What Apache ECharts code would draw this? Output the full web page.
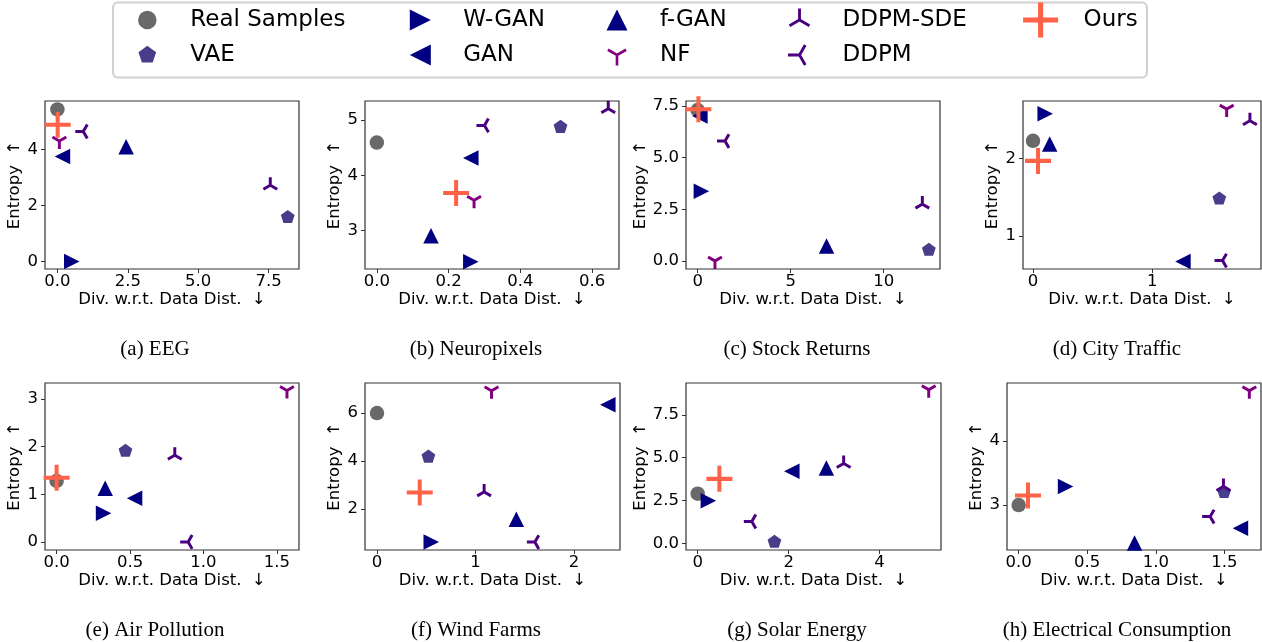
<!DOCTYPE html>
<html>
<head>
<meta charset="utf-8">
<script src="https://cdn.jsdelivr.net/npm/echarts@6/dist/echarts.min.js"></script>
<style>
  html, body { margin: 0; padding: 0; background: #fff; }
  #chart { width: 1262px; height: 642px; }
</style>
</head>
<body>
<div id="chart"></div>
<script>
const methods = ['Real Samples', 'VAE', 'W-GAN', 'GAN', 'f-GAN', 'NF', 'DDPM-SDE', 'DDPM', 'Ours'];
const captions = ['(a) EEG', '(b) Neuropixels', '(c) Stock Returns', '(d) City Traffic',
  '(e) Air Pollution', '(f) Wind Farms', '(g) Solar Energy', '(h) Electrical Consumption'];

// [divergence, entropy] for each method, same order as `methods`
const eeg = [[0, 5.43], [8.18, 1.58], [0.51, 0], [0.18, 3.75], [2.44, 4.1], [0.07, 4.3], [7.56, 2.72], [0.92, 4.64], [0.01, 4.88]];
const neuropixels = [[0, 4.59], [0.512, 4.87], [0.262, 2.44], [0.262, 4.31], [0.151, 2.91], [0.271, 3.55], [0.645, 5.2], [0.30, 4.9], [0.221, 3.68]];
const stockReturns = [[0, 7.3], [12.43, 0.53], [0.2, 3.37], [0.12, 7.02], [6.93, 0.72], [0.93, 0], [12.08, 2.75], [1.47, 5.8], [0.04, 7.34]];
const cityTraffic = [[0, 2.23], [1.563, 1.48], [0.102, 2.58], [1.258, 0.667], [0.14, 2.19], [1.625, 2.64], [1.82, 2.49], [1.59, 0.68], [0.042, 1.97]];
const airPollution = [[0, 1.28], [0.469, 1.91], [0.32, 0.6], [0.531, 0.92], [0.331, 1.13], [1.569, 3.18], [0.805, 1.82], [0.896, 0], [0, 1.35]];
const windFarms = [[0, 6.0], [0.522, 4.18], [0.551, 0.63], [2.344, 6.35], [1.415, 1.58], [1.163, 6.93], [1.088, 2.72], [1.603, 0.63], [0.434, 2.69]];
const solarEnergy = [[0, 2.91], [1.688, 0.1], [0.235, 2.5], [2.07, 4.22], [2.83, 4.4], [5.08, 8.96], [3.21, 4.67], [1.19, 1.29], [0.477, 3.77]];
const electricity = [[0, 3.0], [1.498, 3.2], [0.342, 3.29], [1.617, 2.64], [0.845, 2.41], [1.682, 4.78], [1.493, 3.29], [1.396, 2.82], [0.068, 3.15]];

const xLimits = [[-0.44, 8.58], [-0.033, 0.675], [-0.627, 13.03], [-0.084, 1.913],
  [-0.079, 1.651], [-0.122, 2.468], [-0.257, 5.35], [-0.085, 1.767]];
const yLimits = [[-0.27, 5.73], [2.31, 5.34], [-0.39, 7.74], [0.571, 2.745],
  [-0.169, 3.337], [0.30, 7.254], [-0.37, 9.35], [2.30, 4.90]];
const xTicks = [['0.0', '2.5', '5.0', '7.5'], ['0.0', '0.2', '0.4', '0.6'], ['0', '5', '10'], ['0', '1'],
  ['0.0', '0.5', '1.0', '1.5'], ['0', '1', '2'], ['0', '2', '4'], ['0.0', '0.5', '1.0', '1.5']];
const yTicks = [['0', '2', '4'], ['3', '4', '5'], ['0.0', '2.5', '5.0', '7.5'], ['1', '2'],
  ['0', '1', '2', '3'], ['2', '4', '6'], ['0.0', '2.5', '5.0', '7.5'], ['3', '4']];

const datasets = [eeg, neuropixels, stockReturns, cityTraffic, airPollution, windFarms, solarEnergy, electricity];

// layout
const gridRects = [[45, 101, 254, 168], [365, 101, 254, 168], [686, 101, 254, 168], [1023, 101, 238, 168],
  [45, 383, 254, 167], [365, 383, 255, 167], [686, 383, 255, 167], [1007, 383, 254, 167]];
const yNameGaps = [19, 19, 34, 19, 19, 19, 35, 19];
const captionX = [155, 476, 797, 1117];
const captionY = [349, 630];

const colors = ['#696969', '#483D8B', '#000080', '#000080', '#000080', '#800080', '#4B0082', '#4B0082', '#FF6347'];
const font = 'DejaVu Sans';

// marker shapes (matplotlib-like), all centred in a 20x20 box
const PAD = 'M-10,-10M10,10';
function poly(pts) {
  return 'M' + pts.map(p => p[0].toFixed(2) + ',' + p[1].toFixed(2)).join('L') + 'Z';
}
function triPath(angles, h) {
  return PAD + angles.map(a => {
    const r = a * Math.PI / 180, dx = Math.cos(r), dy = Math.sin(r), nx = -dy, ny = dx, b = -h * 0.6;
    return poly([[b * dx + nx * h, b * dy + ny * h], [10 * dx + nx * h, 10 * dy + ny * h],
      [10 * dx - nx * h, 10 * dy - ny * h], [b * dx - nx * h, b * dy - ny * h]]);
  }).join('');
}
function plusPath(h) {
  return PAD + poly([[-10, -h], [10, -h], [10, h], [-10, h]]) + poly([[-h, -10], [h, -10], [h, 10], [-h, 10]]);
}
const pentagon = PAD + poly([0, 1, 2, 3, 4].map(k => {
  const a = (-90 + 72 * k) * Math.PI / 180;
  return [10 * Math.cos(a), 10 * Math.sin(a)];
}));
const triUp = PAD + 'M0,-10L10,10L-10,10Z';
const triRight = PAD + 'M10,0L-10,10L-10,-10Z';
const triLeft = PAD + 'M-10,0L10,-10L10,10Z';
const armsNF = [90, 210, 330], armsSDE = [270, 150, 30], armsDDPM = [180, 300, 60];

function symbols(triH, plusH) {
  return ['circle', 'path://' + pentagon, 'path://' + triRight, 'path://' + triLeft, 'path://' + triUp,
    'path://' + triPath(armsNF, triH), 'path://' + triPath(armsSDE, triH), 'path://' + triPath(armsDDPM, triH),
    'path://' + plusPath(plusH)];
}
const plotSymbols = symbols(1.85, 1.55);
const legendSymbols = symbols(1.25, 1.45);
const plotSizes = [14.5, 14.5, 15.5, 15.5, 15.5, 16, 16, 16, 26];

const legendCols = [
  { names: ['Real Samples', 'VAE'], x: 147.3, size: 18.5 },
  { names: ['W-GAN', 'GAN'], x: 420.3, size: 21 },
  { names: ['f-GAN', 'NF'], x: 617, size: 21 },
  { names: ['DDPM-SDE', 'DDPM'], x: 799.5, size: 23 },
  { names: ['Ours'], x: 1040.6, size: 35 }
];

function makeAxis(ticks, limits, isX, k) {
  const vals = ticks.map(Number);
  return {
    type: 'value',
    gridIndex: k,
    position: isX ? 'bottom' : 'left',
    min: limits[0],
    max: limits[1],
    name: isX ? 'Div. w.r.t. Data Dist.  \u2193' : 'Entropy  \u2191',
    nameLocation: 'middle',
    nameGap: isX ? 20 : yNameGaps[k],
    nameTextStyle: { fontFamily: font, fontSize: 16.5, color: '#000' },
    axisLine: { show: false, onZero: false },
    axisTick: { show: true, inside: false, length: 4, customValues: vals, lineStyle: { color: '#333', width: 1 } },
    axisLabel: {
      customValues: vals,
      margin: isX ? 4 : 7,
      fontFamily: font, fontSize: 16.5, color: '#000',
      formatter: v => ticks[vals.indexOf(v)] !== undefined ? ticks[vals.indexOf(v)] : String(v)
    },
    splitLine: { show: false }
  };
}

const grid = [], xAxis = [], yAxis = [], series = [];
datasets.forEach((pts, k) => {
  const [l, t, w, h] = gridRects[k];
  grid.push({ left: l, top: t, width: w, height: h, show: true, borderColor: '#333', borderWidth: 1.2,
    backgroundColor: '#fff', outerBoundsMode: 'none', containLabel: false });
  xAxis.push(makeAxis(xTicks[k], xLimits[k], true, k));
  yAxis.push(makeAxis(yTicks[k], yLimits[k], false, k));
  methods.forEach((m, i) => {
    series.push({
      type: 'scatter', name: m, xAxisIndex: k, yAxisIndex: k,
      data: [pts[i]],
      symbol: plotSymbols[i], symbolSize: plotSizes[i], symbolKeepAspect: true,
      itemStyle: { color: colors[i], opacity: 1 },
      emphasis: { disabled: true }, silent: true
    });
  });
});

const legend = legendCols.map(col => {
  const rowH = Math.max(30, col.size);
  return {
    orient: 'vertical',
    left: col.x - col.size / 2,
    top: 20 - rowH / 2,
    padding: 0,
    itemWidth: col.size,
    itemHeight: col.size,
    itemGap: 35 - rowH,
    selectedMode: false,
    symbolKeepAspect: true,
    data: col.names.map(n => ({ name: n, icon: legendSymbols[methods.indexOf(n)] })),
    textStyle: { fontFamily: font, fontSize: 23, color: '#000', lineHeight: 30, padding: [0, 0, 0, 38 - col.size / 2] }
  };
});

const graphic = [{
  type: 'rect', z: 0,
  shape: { x: 113, y: 2.5, width: 1034, height: 75, r: 5 },
  style: { fill: '#fff', stroke: '#d0d0d0', lineWidth: 2 }
}];
captions.forEach((c, k) => {
  graphic.push({
    type: 'text', z: 1,
    style: {
      text: c, x: captionX[k % 4], y: captionY[Math.floor(k / 4)],
      textAlign: 'center', textVerticalAlign: 'middle',
      fontFamily: 'Liberation Serif', fontSize: 21, fill: '#000'
    }
  });
});

const chart = echarts.init(document.getElementById('chart'));
chart.setOption({
  animation: false,
  backgroundColor: '#fff',
  grid, xAxis, yAxis, series, legend, graphic
});
</script>
</body>
</html>
